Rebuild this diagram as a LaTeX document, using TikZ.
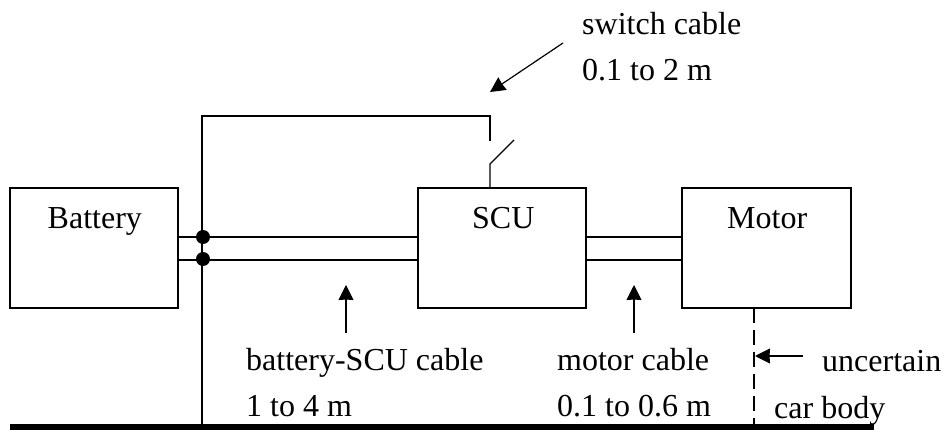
\documentclass[tikz,border=0pt]{standalone}
\usepackage{fontspec}
\setmainfont{Liberation Serif}
\usetikzlibrary{arrows.meta}
\tikzset{
  blockbox/.style={draw,line width=1.2pt,inner sep=0},
  wire/.style={line width=1.2pt},
  lbl/.style={font=\fontsize{32pt}{34pt}\selectfont,anchor=base west,inner sep=0},
  pointer/.style={line width=1.2pt,-{Stealth[length=15pt,width=15pt,inset=0.5pt]}},
  dotm/.style={circle,fill=black,inner sep=0,minimum size=14pt}
}
\begin{document}
\begin{tikzpicture}[x=1pt,y=-1pt]
\useasboundingbox (0,0) rectangle (943,430);
\node[blockbox,minimum width=168pt,minimum height=120pt] (bat) at (94,248) {};
\node[blockbox,minimum width=168pt,minimum height=120pt] (scu) at (502,248) {};
\node[blockbox,minimum width=169pt,minimum height=120pt] (mot) at (766.5,248) {};
\node[lbl] (tb) at (47.5,229) {Battery};
\node[lbl] (ts) at (472,229) {SCU};
\node[lbl] (tm) at (727,229) {Motor};
\node[dotm] (d1) at (203,237) {};
\node[dotm] (d2) at (203,259) {};
\draw[wire] (bat.east |- d1) -- (scu.west |- d1);
\draw[wire] (178,260) -- (418,260);
\draw[wire] (586,237) -- (682,237);
\draw[wire] (586,260) -- (682,260);
\coordinate (g) at (202,425);
\coordinate (t1) at (202,116);
\coordinate (t2) at (490,116);
\coordinate (t3) at (490,141);
\coordinate (s1) at (490,188);
\coordinate (s2) at (490,164);
\coordinate (s3) at (514,140);
\draw[wire] (g) -- (t1) -- (t2) -- (t3);
\draw[wire] (s1) -- (s2) -- (s3);
\draw[wire,dash pattern=on 15pt off 7pt] (754,308) -- (754,425);
\node[lbl] (l1) at (582,35) {switch cable};
\node[lbl] (l2) at (582,81) {0.1 to 2 m};
\node[lbl] (l3) at (246,371) {battery-SCU cable};
\node[lbl] (l4) at (246,417) {1 to 4 m};
\node[lbl] (l5) at (557,371) {motor cable};
\node[lbl] (l6) at (557,417) {0.1 to 0.6 m};
\node[lbl] (l7) at (822,372) {uncertain};
\node[lbl] (l8) at (774,418) {car body};
\coordinate (bartl) at (10,427);
\coordinate (barr) at (874,427);
\draw[line width=6pt] (bartl) -- (barr);
\coordinate (a1) at (563,43);
\coordinate (a1e) at (490,92);
\draw[pointer] (a1) -- (a1e);
\coordinate (a2) at (346,333);
\coordinate (a2e) at (346,285);
\draw[pointer] (a2) -- (a2e);
\coordinate (a3) at (634,333);
\coordinate (a3e) at (634,285);
\draw[pointer] (a3) -- (a3e);
\coordinate (a4) at (803,356);
\coordinate (a4e) at (755,356);
\draw[pointer] (a4) -- (a4e);
\end{tikzpicture}
\end{document}
